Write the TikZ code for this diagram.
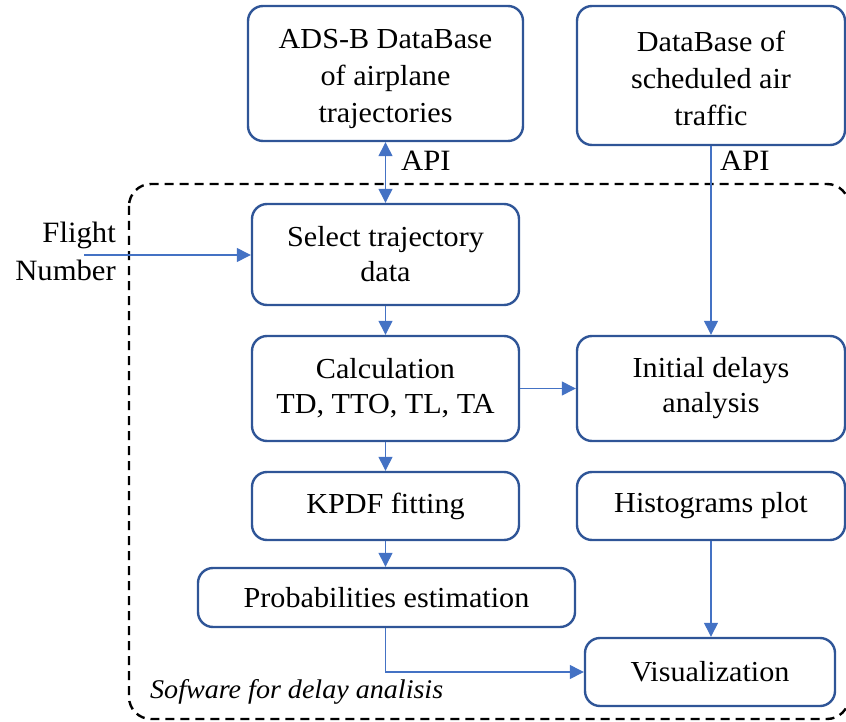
\documentclass[tikz,border=0pt]{standalone}
\usepackage{fontspec}
\setmainfont[FakeStretch=1.04]{Liberation Serif}
\usetikzlibrary{arrows.meta}
\definecolor{boxblue}{HTML}{2F5597}
\definecolor{arrblue}{HTML}{4472C4}
\tikzset{
  box/.style={draw=boxblue, line width=2.4pt, rounded corners=15pt, align=center,
    font=\fontsize{29}{35}\selectfont, inner sep=0pt},
  txt3/.style={align=center, font=\fontsize{29}{37}\selectfont, inner sep=0pt},
  ftip/.tip={Triangle[length=14pt,width=14pt]},
  conn/.style={draw=arrblue, line width=1.3pt, -ftip},
  lbl/.style={font=\fontsize{29.5}{38}\selectfont, inner sep=0pt},
}
\begin{document}
\begin{tikzpicture}[x=1pt,y=-1pt]
\useasboundingbox (0,0) rectangle (846,722);
% dashed software frame
\draw[black, line width=2.4pt, dash pattern=on 9pt off 6pt, rounded corners=22pt]
  (129,184) rectangle (849,719);
% boxes
\node[box, minimum width=275pt, minimum height=135pt] (ads) at (385.5,73.5) {};
\node[txt3] (adsT) at ([yshift=-5pt]ads.center) {ADS-B DataBase\\of airplane\\trajectories};
\node[box, minimum width=268pt, minimum height=139pt] (sched) at (711,75.5) {};
\node[txt3] (schedT) at ([yshift=-3pt]sched.center) {DataBase of\\scheduled air\\traffic};
\node[box, minimum width=267pt, minimum height=101pt] (sel) at (385.5,254.5) {Select trajectory\\data};
\node[box, minimum width=267pt, minimum height=105pt] (calc) at (385.5,388.5) {Calculation\\TD, TTO, TL, TA};
\node[box, minimum width=268pt, minimum height=105pt] (init) at (711,388.5) {Initial delays\\analysis};
\node[box, minimum width=267pt, minimum height=68pt] (kpdf) at (385.5,506) {KPDF fitting};
\node[box, minimum width=268pt, minimum height=68pt] (hist) at (711,506) {Histograms plot};
\node[box, minimum width=377pt, minimum height=59pt] (prob) at (386.5,597.5) {Probabilities estimation};
\node[box, minimum width=250pt, minimum height=68pt] (vis) at (710,672) {Visualization};
% labels
\node[lbl, align=right, anchor=east] (fn) at (116,251) {Flight\\Number};
\node[lbl, anchor=west] (api1) at (401,161) {API};
\node[lbl, anchor=west] (api2) at (720,161) {API};
\node[lbl, anchor=west, font=\fontsize{27}{30}\selectfont\itshape] (sw) at (150,692) {Sofware for delay analisis};
\coordinate (fnstart) at (84,255);
% connectors
\draw[conn, ftip-ftip] (ads.south) -- (sel.north);
\draw[conn] (sched.south) -- (init.north);
\draw[conn] (fnstart) -- (fnstart -| sel.west);
\draw[conn] (sel.south) -- (calc.north);
\draw[conn] (calc.east) -- (init.west);
\draw[conn] (calc.south) -- (kpdf.north);
\draw[conn] (kpdf.south) -- (kpdf.south |- prob.north);
\draw[conn] (hist.south) -- (vis.north -| hist.south);
\draw[conn] (prob.south -| kpdf.south) |- (vis.west);
\end{tikzpicture}
\end{document}
